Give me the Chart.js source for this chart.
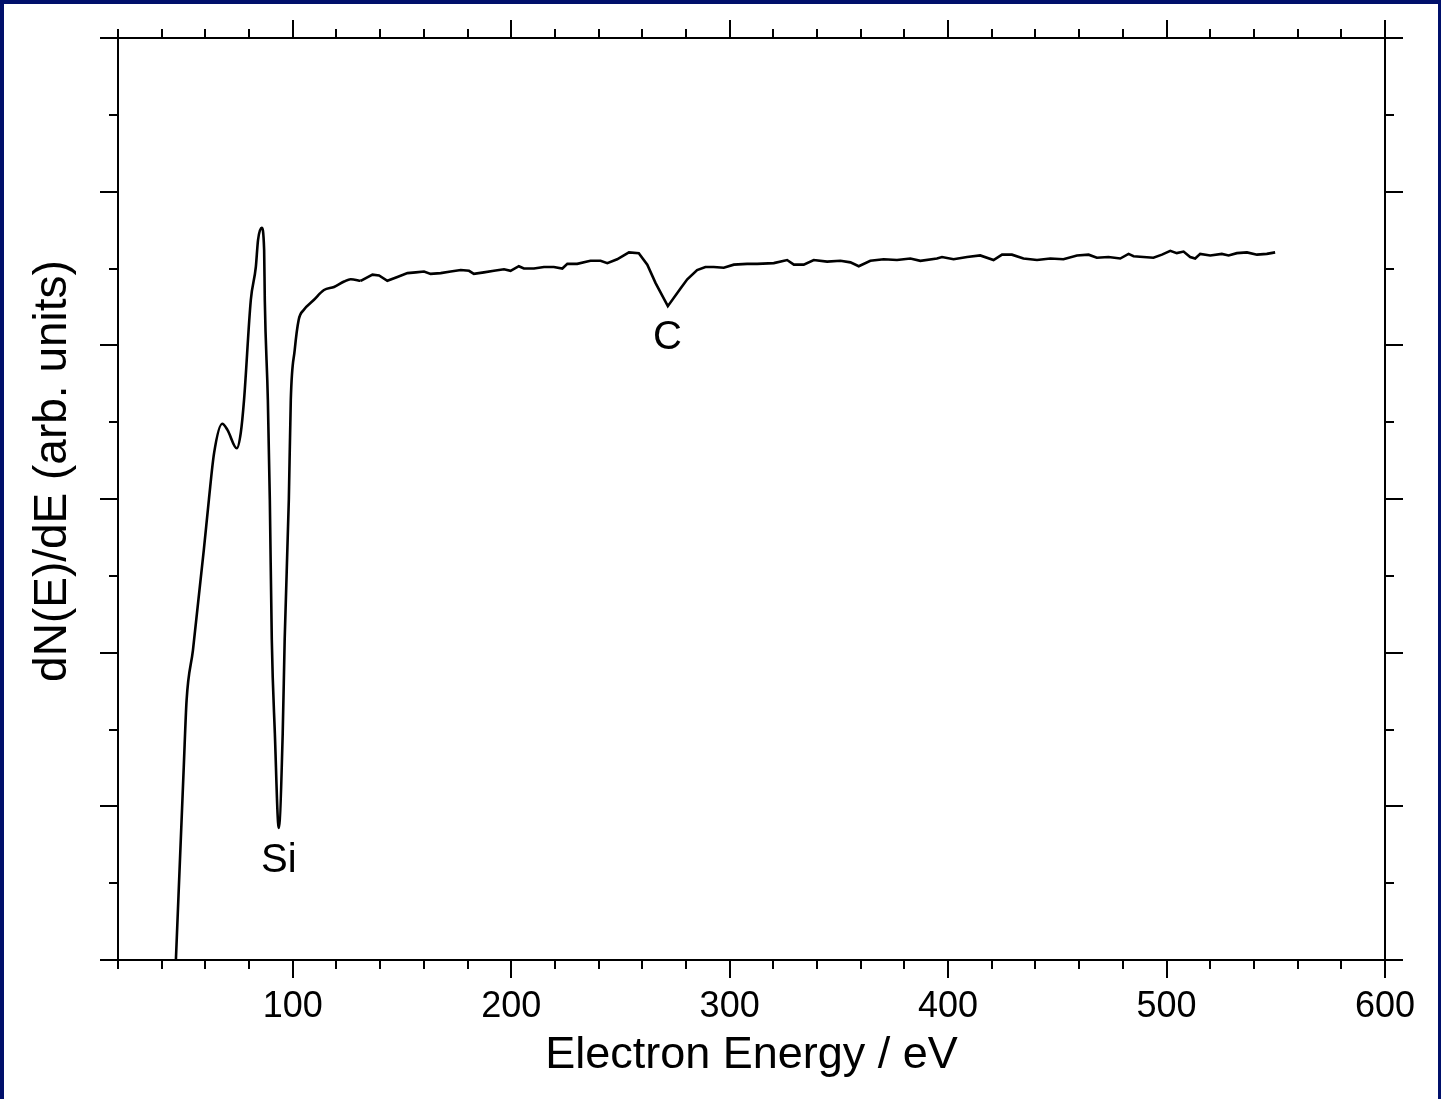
<!DOCTYPE html>
<html>
<head>
<meta charset="utf-8">
<script src="https://cdn.jsdelivr.net/npm/chart.js@4.4.1/dist/chart.umd.min.js"></script>
<style>
  html, body { margin: 0; padding: 0; background: #fff; overflow: hidden; }
  canvas { display: block; }
</style>
</head>
<body>
<canvas id="aes" width="1441" height="1099"></canvas>
<script>
// Auger spectrum (energy in eV, signal in arb. units 0..12)
const energy = [
  46.5, 50.1, 51.4, 54.3, 59.3, 61.6, 64.0, 67.7, 70.1, 74.4, 76.2, 77.7, 80.8, 83.1, 84.1, 85.8,
  86.9, 87.2, 88.6, 89.5, 90.4, 91.8, 93.6, 95.4, 96.3, 98.2, 99.1, 100.9, 102.7, 105.0, 109.6,
  114.3, 118.9, 123.5, 126.5, 131.1, 136.5, 139.5, 143.3, 147.9, 152.5, 156.3, 160.1, 163.1,
  167.7, 172.3, 176.9, 180.7, 182.9, 187.5, 192.1, 196.7, 199.7, 203.5, 205.8, 210.4, 215.0,
  219.5, 223.4, 225.7, 230.2, 234.8, 236.3, 240.9, 244.0, 248.5, 253.9, 258.4, 262.3, 266.1,
  271.7, 277.5, 280.6, 285.1, 288.9, 292.7, 297.3, 301.9, 308.0, 312.6, 320.2, 326.3, 329.4,
  333.9, 338.5, 344.6, 350.7, 355.3, 359.1, 364.4, 370.5, 376.6, 382.7, 387.3, 394.9, 397.2,
  402.5, 408.7, 414.7, 420.8, 424.7, 429.2, 434.5, 440.7, 446.8, 452.8, 459.0, 464.3, 468.1,
  473.4, 478.8, 482.6, 484.9, 489.4, 494.0, 497.9, 501.7, 504.7, 507.8, 510.8, 513.1, 515.4,
  520.0, 525.3, 528.4, 532.2, 536.8, 541.4, 545.9, 549.7
];
const signal = [
  0.00, 2.51, 3.38, 4.03, 5.34, 5.99, 6.60, 6.98, 6.90, 6.66, 6.86, 7.29, 8.59, 9.02, 9.37, 9.53,
  9.24, 8.59, 7.29, 5.99, 4.17, 2.95, 1.72, 2.95, 4.17, 5.99, 7.29, 7.94, 8.33, 8.46, 8.59,
  8.72, 8.76, 8.83, 8.86, 8.84, 8.92, 8.91, 8.84, 8.89, 8.94, 8.95, 8.96, 8.93,
  8.94, 8.96, 8.98, 8.97, 8.93, 8.95, 8.97, 8.99, 8.97, 9.03, 9.00, 9.00, 9.02,
  9.02, 9.00, 9.06, 9.06, 9.09, 9.10, 9.10, 9.07, 9.12, 9.21, 9.20, 9.05, 8.81,
  8.51, 8.74, 8.86, 8.98, 9.02, 9.02, 9.01, 9.05, 9.06, 9.06, 9.07, 9.11, 9.05,
  9.05, 9.11, 9.09, 9.10, 9.08, 9.03, 9.10, 9.12, 9.11, 9.13, 9.10, 9.13, 9.15,
  9.12, 9.15, 9.17, 9.11, 9.18, 9.18, 9.13, 9.11, 9.13, 9.12, 9.17, 9.18, 9.14,
  9.15, 9.13, 9.19, 9.16, 9.15, 9.14, 9.18, 9.23, 9.20, 9.22, 9.15, 9.13, 9.19,
  9.17, 9.19, 9.17, 9.20, 9.21, 9.18, 9.19, 9.21
];

// axis ticks
const xLabels = [100, 200, 300, 400, 500, 600];
const xMinor = [20, 40, 60, 80, 100, 120, 140, 160, 180, 200, 220, 240, 260, 280, 300, 320, 340,
  360, 380, 400, 420, 440, 460, 480, 500, 520, 540, 560, 580, 600];
const yTicks = [0, 1, 2, 3, 4, 5, 6, 7, 8, 9, 10, 11, 12];

// peak labels
const peakNames = ['Si', 'C'];
const peakEnergy = [93.6, 271.5];
const peakSignal = [1.13, 7.94];

// the Si structure is smooth, the rest is noisy
const smoothUpTo = 131.1;

const FONT = "'Liberation Sans', Arial, sans-serif";
Chart.defaults.font.family = FONT;
Chart.defaults.color = '#000';

const points = energy.map((e, i) => ({ x: e, y: signal[i] }));

const frame = {
  id: 'frame',
  beforeDraw(chart) {
    const ctx = chart.ctx;
    ctx.save();
    ctx.fillStyle = '#fff';
    ctx.fillRect(0, 0, chart.width, chart.height);
    ctx.fillStyle = '#00106b';
    ctx.fillRect(0, 0, chart.width, 4);
    ctx.fillRect(0, 0, 4, chart.height);
    ctx.fillRect(chart.width - 3, 0, 3, chart.height);
    ctx.restore();
  },
  afterDraw(chart) {
    const ctx = chart.ctx;
    const a = chart.chartArea;
    const xs = chart.scales.x, ys = chart.scales.y;
    ctx.save();
    ctx.strokeStyle = '#000';
    ctx.lineWidth = 2;
    ctx.beginPath();
    ctx.rect(a.left, a.top, a.right - a.left, a.bottom - a.top);
    // x ticks top and bottom
    xMinor.forEach(v => {
      const px = Math.round(xs.getPixelForValue(v));
      const len = v % 100 === 0 ? 18 : 9;
      ctx.moveTo(px, a.bottom); ctx.lineTo(px, a.bottom + len);
      ctx.moveTo(px, a.top); ctx.lineTo(px, a.top - len);
    });
    // y ticks left and right
    yTicks.forEach(v => {
      const py = Math.round(ys.getPixelForValue(v));
      const len = v % 2 === 0 ? 18 : 9;
      ctx.moveTo(a.left, py); ctx.lineTo(a.left - len, py);
      ctx.moveTo(a.right, py); ctx.lineTo(a.right + len, py);
    });
    ctx.stroke();

    // y axis title
    ctx.fillStyle = '#000';
    ctx.font = '46px ' + FONT;
    ctx.textAlign = 'center';
    ctx.textBaseline = 'alphabetic';
    ctx.save();
    ctx.translate(66, 471);
    ctx.rotate(-Math.PI / 2);
    ctx.fillText('dN(E)/dE (arb. units)', 0, 0);
    ctx.restore();

    // peak labels
    ctx.font = '40px ' + FONT;
    peakNames.forEach((t, i) => {
      ctx.fillText(t, xs.getPixelForValue(peakEnergy[i]), ys.getPixelForValue(peakSignal[i]) - 1);
    });
    ctx.restore();
  }
};

new Chart(document.getElementById('aes'), {
  type: 'line',
  data: {
    datasets: [{
      data: points.filter(p => p.x <= smoothUpTo),
      borderColor: '#000',
      borderWidth: 2.6,
      pointRadius: 0,
      cubicInterpolationMode: 'monotone',
      fill: false
    }, {
      data: points.filter(p => p.x >= smoothUpTo),
      borderColor: '#000',
      borderWidth: 2.6,
      pointRadius: 0,
      tension: 0,
      fill: false
    }]
  },
  options: {
    responsive: false,
    devicePixelRatio: 1,
    animation: false,
    layout: { padding: { top: 38, right: 56, left: 0, bottom: 0 } },
    plugins: { legend: { display: false }, tooltip: { enabled: false } },
    scales: {
      x: {
        type: 'linear',
        min: 20,
        max: 600,
        grid: { display: false, drawTicks: false },
        border: { display: false },
        ticks: { font: { size: 36 }, color: '#000', padding: 25, maxRotation: 0, autoSkip: false },
        afterBuildTicks: s => { s.ticks = xLabels.map(v => ({ value: v })); },
        afterFit: s => { s.height = 139; },
        title: {
          display: true,
          text: 'Electron Energy / eV',
          font: { size: 45 },
          color: '#000',
          padding: { top: 0, bottom: 16 }
        }
      },
      y: {
        type: 'linear',
        min: 0,
        max: 12,
        grid: { display: false, drawTicks: false },
        border: { display: false },
        ticks: { display: false },
        afterFit: s => { s.width = 118; }
      }
    }
  },
  plugins: [frame]
});
</script>
</body>
</html>
